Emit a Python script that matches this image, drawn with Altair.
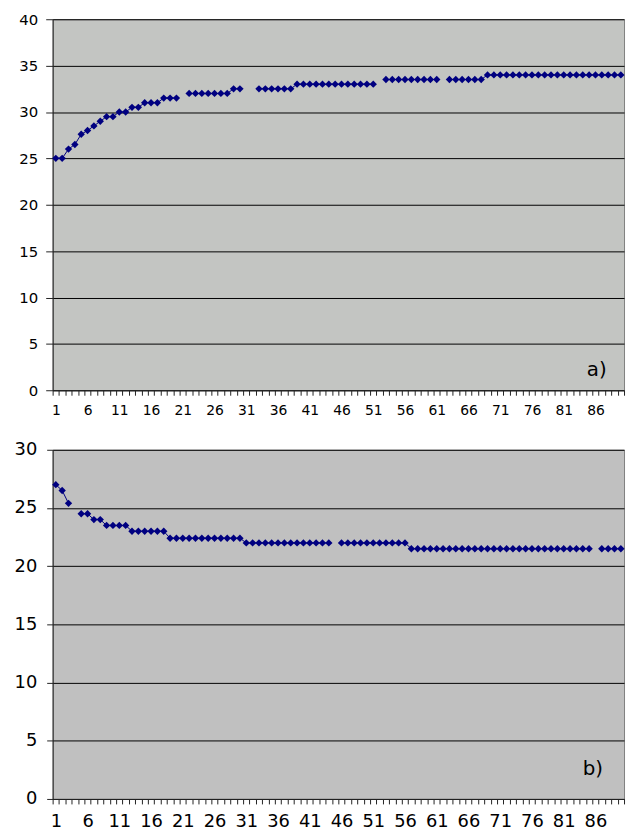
import altair as alt
import pandas as pd

categories = list(range(1, 91))

series_a = [
    25, 25, 26, 26.5, 27.6, 28, 28.5, 29, 29.5, 29.5,
    30, 30, 30.5, 30.5, 31, 31, 31, 31.5, 31.5, 31.5,
    None, 32, 32, 32, 32, 32, 32, 32, 32.5, 32.5,
    None, None, 32.5, 32.5, 32.5, 32.5, 32.5, 32.5, 33, 33,
    33, 33, 33, 33, 33, 33, 33, 33, 33, 33,
    33, None, 33.5, 33.5, 33.5, 33.5, 33.5, 33.5, 33.5, 33.5,
    33.5, None, 33.5, 33.5, 33.5, 33.5, 33.5, 33.5, 34, 34,
    34, 34, 34, 34, 34, 34, 34, 34, 34, 34,
    34, 34, 34, 34, 34, 34, 34, 34, 34, 34,
]

series_b = [
    27, 26.5, 25.4, None, 24.5, 24.5, 24, 24, 23.5, 23.5,
    23.5, 23.5, 23, 23, 23, 23, 23, 23, 22.4, 22.4,
    22.4, 22.4, 22.4, 22.4, 22.4, 22.4, 22.4, 22.4, 22.4, 22.4,
    22, 22, 22, 22, 22, 22, 22, 22, 22, 22,
    22, 22, 22, 22, None, 22, 22, 22, 22, 22,
    22, 22, 22, 22, 22, 22, 21.5, 21.5, 21.5, 21.5,
    21.5, 21.5, 21.5, 21.5, 21.5, 21.5, 21.5, 21.5, 21.5, 21.5,
    21.5, 21.5, 21.5, 21.5, 21.5, 21.5, 21.5, 21.5, 21.5, 21.5,
    21.5, 21.5, 21.5, 21.5, 21.5, None, 21.5, 21.5, 21.5, 21.5,
]

tag_a = {"text": "a)", "cat": 86.2, "val": 2.2}
tag_b = {"text": "b)", "cat": 85.6, "val": 2.6}

FONT = "DejaVu Sans"
NAVY = "#000080"


def panel(values, ymax, ystep, bg, w, h, fs_y, fs_x, tag, tick_y, pad_y, pad_x, extent):
    df = pd.DataFrame({"cat": categories, "val": values})
    df["seg"] = df["val"].isna().cumsum()
    df = df.dropna()
    band = w / 90.0

    x = alt.X(
        "cat:Q",
        scale=alt.Scale(domain=[0.5, 90.5], nice=False, zero=False),
        axis=alt.Axis(
            values=[k + 0.5 for k in range(91)],
            labelExpr="(datum.value - 0.5) % 5 == 0 && datum.value < 90 ? format(datum.value + 0.5, 'd') : ''",
            labelOffset=band / 2,
            labelOverlap=False,
            labelFlush=False,
            tickSize=5,
            tickColor="#222222",
            domainColor="#222222",
            labelFont=FONT,
            labelFontSize=fs_x,
            labelColor="black",
            labelPadding=pad_x,
            grid=False,
            title=None,
        ),
    )
    y = alt.Y(
        "val:Q",
        scale=alt.Scale(domain=[0, ymax], nice=False, zero=True),
        axis=alt.Axis(
            values=list(range(0, ymax + 1, ystep)),
            grid=True,
            gridColor="black",
            gridOpacity=1,
            gridWidth=1,
            tickSize=tick_y,
            tickColor="#222222",
            domainColor="#222222",
            labelFont=FONT,
            labelFontSize=fs_y,
            labelColor="black",
            labelPadding=pad_y,
            minExtent=extent,
            maxExtent=extent,
            title=None,
        ),
    )

    line = alt.Chart(df).mark_line(color=NAVY, strokeWidth=1).encode(x=x, y=y, detail="seg:N")
    pts = alt.Chart(df).mark_point(
        shape="diamond", filled=True, size=55, color=NAVY, opacity=1
    ).encode(x=x, y=y)
    tdf = pd.DataFrame({"cat": [tag["cat"]], "val": [tag["val"]], "t": [tag["text"]]})
    txt = alt.Chart(tdf).mark_text(
        font=FONT, fontSize=20, color="black", align="center", baseline="middle"
    ).encode(x=x, y=y, text="t:N")

    return alt.layer(line, pts, txt).properties(
        width=w, height=h, view=alt.ViewBackground(fill=bg, stroke="#808080", strokeWidth=1)
    )


top = panel(series_a, 40, 5, "#c3c5c2", 576, 374, 15, 14, tag_a, 7, 8, 8, 44)
bottom = panel(series_b, 30, 5, "#c0c0c0", 576, 352, 18, 18, tag_b, 6, 10, 9, 44)

chart = alt.vconcat(top, bottom, spacing=22).properties(
    padding={"left": 0, "top": 0, "right": 0, "bottom": 0},
    background="white",
)

chart.save("out.html", embed_options={"renderer": "svg", "actions": False})
